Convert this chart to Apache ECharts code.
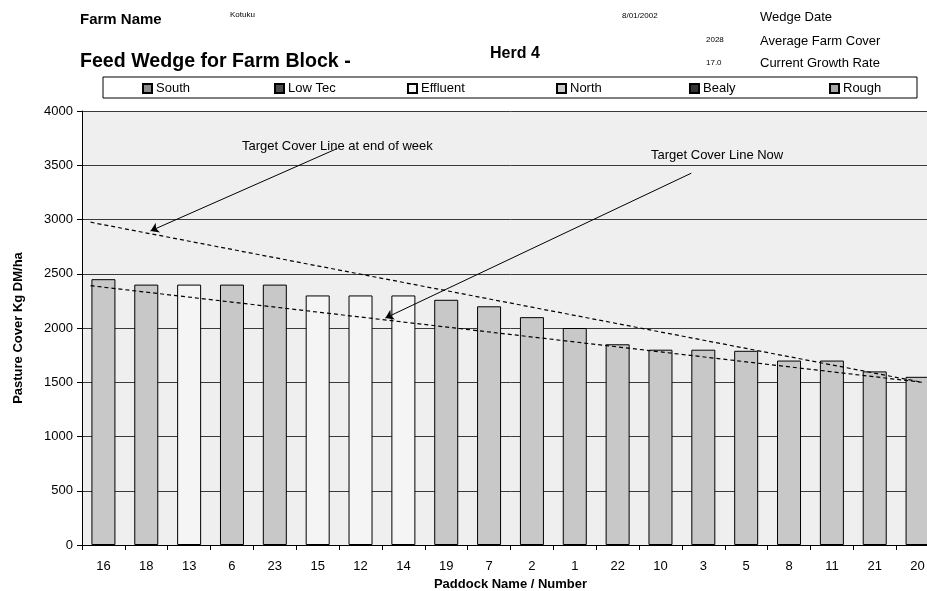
<!DOCTYPE html>
<html>
<head>
<meta charset="utf-8">
<script src="https://cdn.jsdelivr.net/npm/echarts@6/dist/echarts.min.js"></script>
<style>
  html, body { margin: 0; padding: 0; background: #ffffff; overflow: hidden; }
  #chart { width: 940px; height: 591px; }
</style>
</head>
<body>
<div id="chart"></div>
<script>
// Paddocks in wedge order (highest cover first)
const paddocks = ['16', '18', '13', '6', '23', '15', '12', '14', '19', '7',
                  '2', '1', '22', '10', '3', '5', '8', '11', '21', '20'];
// Block each paddock belongs to
const paddockBlock = ['North', 'North', 'Effluent', 'North', 'North', 'Effluent', 'Effluent', 'Effluent', 'North', 'North',
                      'North', 'North', 'North', 'North', 'North', 'North', 'North', 'North', 'North', 'North'];
// Pasture cover, kg DM/ha
const cover = [2450, 2400, 2400, 2400, 2400, 2300, 2300, 2300, 2260, 2200,
               2100, 2000, 1850, 1800, 1800, 1790, 1700, 1700, 1600, 1550];
// Farm blocks shown in the legend
const blocks = ['South', 'Low Tec', 'Effluent', 'North', 'Bealy', 'Rough'];
const blockColors = ['#8c8c8c', '#4a4a4a', '#f5f5f5', '#c8c8c8', '#333333', '#a6a6a6'];
// Target cover lines: [position along paddock axis, kg DM/ha]
const targetNow = [[0.2, 2390], [19.6, 1500]];
const targetEndOfWeek = [[0.2, 2975], [19.6, 1500]];
// Pointer arrows for the two target lines: [from, to]
const arrowEndOfWeek = [[5.96, 3655], [1.6, 2895]];
const arrowNow = [[14.22, 3427], [7.08, 2092]];
// Header details
const farmName = 'Kotuku';
const herd = 'Herd 4';
const wedgeDate = '8/01/2002';
const averageFarmCover = '2028';
const currentGrowthRate = '17.0';

const FONT = '"Liberation Sans", Arial, sans-serif';

const barSeries = blocks.map((b, i) => ({
  name: b,
  type: 'bar',
  stack: 'cover',
  barWidth: 24,
  xAxisIndex: 0,
  yAxisIndex: 0,
  itemStyle: { color: blockColors[i], borderColor: '#000', borderWidth: 1 },
  data: cover.map((v, j) => (paddockBlock[j] === b ? v : null)),
  z: 2
}));

const legendLeft = [142, 274, 407, 556, 689, 829];
const legends = blocks.map((b, i) => ({
  data: [b],
  left: legendLeft[i],
  top: 82,
  padding: 0,
  icon: 'rect',
  itemWidth: 9,
  itemHeight: 9,
  selectedMode: false,
  textStyle: { fontFamily: FONT, fontSize: 13, color: '#000', padding: [0, 0, 0, -1] }
}));

// Header / annotation text anchored at its left edge and vertical middle
function txt(x, y, text, size, bold) {
  return {
    type: 'text', x: x, y: y, z: 10,
    style: {
      text: text, fill: '#000',
      font: (bold ? 'bold ' : '') + size + 'px ' + FONT,
      textAlign: 'left', textVerticalAlign: 'middle'
    }
  };
}

const chart = echarts.init(document.getElementById('chart'), null, { renderer: 'canvas' });
chart.setOption({
  backgroundColor: '#ffffff',
  animation: false,
  legend: legends,
  grid: {
    left: 82, top: 111, width: 857, height: 434,
    outerBoundsMode: 'none',
    containLabel: false,
    show: true, backgroundColor: '#efefef', borderWidth: 0
  },
  xAxis: [{
    type: 'category',
    data: paddocks,
    name: 'Paddock Name / Number',
    nameLocation: 'middle',
    nameGap: 33,
    nameTextStyle: { fontFamily: FONT, fontSize: 13, fontWeight: 'bold', color: '#000' },
    axisLine: { show: true, lineStyle: { color: '#000', width: 1 } },
    axisTick: { show: true, length: 5, alignWithLabel: false, lineStyle: { color: '#000' } },
    axisLabel: { fontFamily: FONT, fontSize: 13, color: '#000', margin: 15, interval: 0 },
    splitLine: { show: false }
  }, {
    type: 'value', min: 0, max: 20, show: false
  }],
  yAxis: {
    type: 'value',
    min: 0, max: 4000, interval: 500,
    name: 'Pasture Cover Kg DM/ha',
    nameLocation: 'middle',
    nameGap: 57,
    nameTextStyle: { fontFamily: FONT, fontSize: 13, fontWeight: 'bold', color: '#000' },
    axisLine: { show: true, lineStyle: { color: '#000', width: 1 } },
    axisTick: { show: true, length: 5, inside: false, lineStyle: { color: '#000' } },
    axisLabel: { fontFamily: FONT, fontSize: 13, color: '#000', margin: 9, formatter: v => String(v) },
    splitLine: { show: true, lineStyle: { color: '#3a3a3a', width: 1 } }
  },
  series: barSeries.concat([
    {
      name: 'Target Cover Line Now',
      type: 'line',
      xAxisIndex: 1,
      yAxisIndex: 0,
      data: targetNow,
      symbol: 'none',
      lineStyle: { color: '#000', width: 1.2, type: [4, 3] },
      z: 5,
      markLine: {
        silent: true,
        symbol: ['none', 'arrow'],
        symbolSize: 8,
        label: { show: false },
        lineStyle: { color: '#000', width: 1, type: 'solid' },
        data: [[{ coord: arrowNow[0] }, { coord: arrowNow[1] }]]
      }
    },
    {
      name: 'Target Cover Line at end of week',
      type: 'line',
      xAxisIndex: 1,
      yAxisIndex: 0,
      data: targetEndOfWeek,
      symbol: 'none',
      lineStyle: { color: '#000', width: 1.2, type: [4, 3] },
      z: 5,
      markLine: {
        silent: true,
        symbol: ['none', 'arrow'],
        symbolSize: 8,
        label: { show: false },
        lineStyle: { color: '#000', width: 1, type: 'solid' },
        data: [[{ coord: arrowEndOfWeek[0] }, { coord: arrowEndOfWeek[1] }]]
      }
    }
  ]),
  graphic: [
    txt(80, 20, 'Farm Name', 15, true),
    txt(230, 15, farmName, 8, false),
    txt(80, 62, 'Feed Wedge for Farm Block -', 19.6, true),
    txt(490, 54, herd, 16, true),
    txt(622, 16, wedgeDate, 8, false),
    txt(706, 40, averageFarmCover, 8, false),
    txt(706, 63, currentGrowthRate, 8, false),
    txt(760, 17, 'Wedge Date', 13, false),
    txt(760, 41, 'Average Farm Cover', 13, false),
    txt(760, 63, 'Current Growth Rate', 13, false),
    {
      type: 'rect', x: 103, y: 77, z: 1,
      shape: { x: 0, y: 0, width: 814, height: 21 },
      style: { fill: 'none', stroke: '#000', lineWidth: 1 }
    },
    txt(242, 146, 'Target Cover Line at end of week', 13, false),
    txt(651, 155, 'Target Cover Line Now', 13, false)
  ]
});
</script>
</body>
</html>
